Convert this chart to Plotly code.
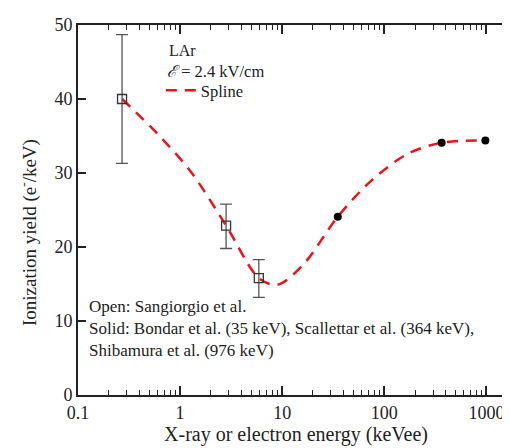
import plotly.graph_objects as go

# Open squares: Sangiorgio et al.
open_x = [0.27, 2.82, 5.9]
open_y = [40.0, 22.9, 15.8]
open_err_plus = [8.7, 2.9, 2.5]
open_err_minus = [8.7, 3.1, 2.6]

# Solid circles: Bondar, Scalettar, Shibamura
solid_x = [35, 364, 976]
solid_y = [24.1, 34.1, 34.4]

# Spline curve
spline_x = [0.27, 0.6, 1.3, 2.82, 5.9, 9.0, 16, 35, 75, 170, 364, 976]
spline_y = [40.0, 35.3, 30.0, 22.9, 15.8, 14.9, 17.6, 24.1, 29.0, 32.6, 34.1, 34.4]

x_tickvals = [0.1, 1, 10, 100, 1000]
x_ticktext = ["0.1", "1", "10", "100", "1000"]

FONT = "Liberation Serif"

fig = go.Figure()

fig.add_trace(go.Scatter(
    x=spline_x, y=spline_y, mode="lines", name="Spline",
    line=dict(color="#e8141b", width=2.5, dash="11px,8px", shape="spline", smoothing=0.9),
    showlegend=True,
))

fig.add_trace(go.Scatter(
    x=open_x, y=open_y, mode="markers", showlegend=False,
    marker=dict(symbol="square-open", size=9, color="#333333", line=dict(width=1.3, color="#333333")),
    error_y=dict(type="data", symmetric=False, array=open_err_plus, arrayminus=open_err_minus,
                 color="#555555", thickness=1.3, width=6),
))

fig.add_trace(go.Scatter(
    x=solid_x, y=solid_y, mode="markers", showlegend=False,
    marker=dict(symbol="circle", size=8, color="black"),
))

fig.add_annotation(x=0.205, y=0.93, xref="paper", yref="paper", text="LAr", showarrow=False,
                   xanchor="left", yanchor="middle", font=dict(family=FONT, size=16, color="#222"))
fig.add_annotation(x=0.2, y=0.874, xref="paper", yref="paper", text="<i>ℰ</i> = 2.4 kV/cm", showarrow=False,
                   xanchor="left", yanchor="middle", font=dict(family=FONT, size=16.5, color="#222"))

fig.add_annotation(x=0.02, y=0.27, xref="paper", yref="paper", align="left",
                   text="Open: Sangiorgio et al.<br>Solid: Bondar et al. (35 keV), Scallettar et al. (364 keV),<br>Shibamura et al. (976 keV)",
                   showarrow=False, xanchor="left", yanchor="top",
                   font=dict(family=FONT, size=17, color="#222"))

fig.add_annotation(x=-0.115, y=0.44, xref="paper", yref="paper", text="Ionization yield (e<sup>-</sup>/keV)",
                   showarrow=False, textangle=-90, xanchor="center", yanchor="middle",
                   font=dict(family=FONT, size=19, color="#222"))

fig.update_layout(
    width=510, height=448,
    margin=dict(l=70, r=2, t=17, b=61),
    paper_bgcolor="white", plot_bgcolor="white",
    font=dict(family=FONT, size=16, color="#222"),
    legend=dict(x=0.19, y=0.87, xanchor="left", yanchor="top", bgcolor="rgba(0,0,0,0)",
                font=dict(family=FONT, size=16.5, color="#222"), itemwidth=30),
    showlegend=True,
)

fig.update_xaxes(
    type="log", range=[-1, 3.27],
    tickvals=x_tickvals, ticktext=x_ticktext,
    ticks="inside", ticklen=9, tickwidth=1.5, tickcolor="#222",
    minor=dict(ticks="inside", ticklen=5, tickwidth=1.2, tickcolor="#222", dtick="D1", showgrid=False),
    showline=True, linewidth=2, linecolor="#222", mirror="ticks",
    showgrid=False, zeroline=False,
    title=dict(text="X-ray or electron energy (keVee)", font=dict(family=FONT, size=20), standoff=4),
    tickfont=dict(family=FONT, size=18),
)

fig.update_yaxes(
    range=[0, 50], dtick=10,
    ticks="inside", ticklen=8, tickwidth=1.5, tickcolor="#222",
    showline=True, linewidth=2, linecolor="#222", mirror="ticks",
    showgrid=False, zeroline=False,
    tickfont=dict(family=FONT, size=18),
)

fig.write_html("out.html")
